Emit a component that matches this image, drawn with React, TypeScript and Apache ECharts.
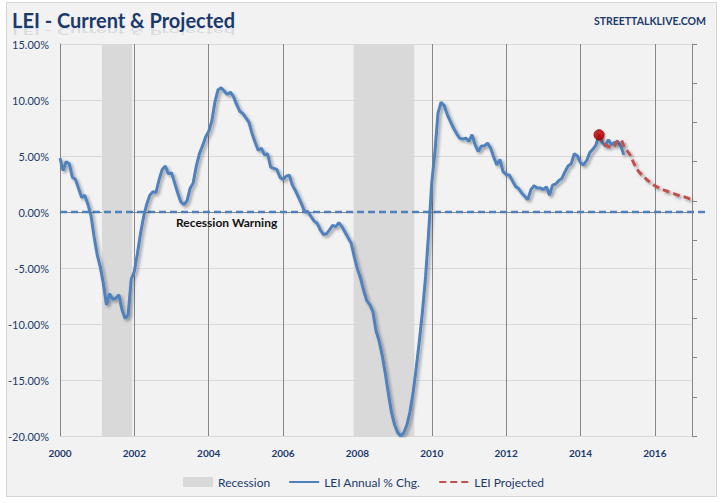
import React, { useEffect, useRef } from "react";
import * as echarts from "echarts";

// ---------- data ----------
const startYear = 2000; // monthly series starting Jan 2000
const leiActual: number[] = [
  // 2000
  4.8, 3.7, 4.5, 4.3, 3.1, 2.9, 2.1, 1.3, 1.5, 0.7, -0.3, -2.2,
  // 2001
  -3.8, -4.9, -6.4, -8.3, -7.3, -7.8, -7.7, -7.4, -8.7, -9.5, -9.2, -6.0,
  // 2002
  -5.3, -3.7, -1.9, -0.4, 0.7, 1.5, 1.8, 1.75, 2.9, 3.8, 4.1, 3.4,
  // 2003
  3.5, 2.6, 1.7, 0.9, 0.65, 1.0, 2.1, 2.6, 4.1, 5.2, 5.9, 6.7,
  // 2004
  7.2, 8.1, 9.8, 10.9, 11.1, 10.8, 10.5, 10.7, 10.3, 9.6, 9.0, 8.8,
  // 2005
  8.4, 8.0, 7.0, 6.2, 5.5, 5.7, 5.1, 5.2, 4.0, 3.9, 3.8, 3.1,
  // 2006
  2.9, 3.2, 3.3, 2.4, 1.9, 1.3, 0.7, 0.0, 0.05, -0.4, -0.8, -1.0,
  // 2007
  -1.6, -2.0, -1.95, -1.6, -1.2, -1.3, -0.95, -1.3, -1.8, -2.3, -2.8, -4.0,
  // 2008
  -5.1, -5.9, -7.0, -7.9, -8.3, -8.9, -10.6, -11.5, -12.8, -14.4, -16.2, -17.9,
  // 2009
  -19.0, -19.7, -20.0, -19.7, -19.0, -17.8, -16.1, -13.9, -11.5, -8.9, -5.8, -1.8,
  // 2010
  2.6, 5.3, 8.8, 9.8, 9.5, 8.7, 8.1, 7.5, 7.0, 6.6, 6.5, 6.6,
  // 2011
  6.3, 6.9, 6.0, 5.4, 5.9, 5.9, 6.15, 5.7, 4.9, 4.2, 4.7, 3.6,
  // 2012
  3.35, 3.3, 2.8, 2.3, 2.1, 1.7, 1.4, 1.1, 2.0, 2.35, 2.15, 2.15,
  // 2013
  2.0, 2.25, 1.5, 2.4, 2.5, 2.8, 3.0, 3.6, 4.1, 4.3, 5.2, 5.0,
  // 2014
  4.4, 4.2, 4.6, 5.3, 5.6, 6.0, 6.9, 6.2, 5.9, 6.45, 6.0, 6.2,
  // 2015
  6.3, 5.9, 5.1,
];

const projectedStart = 2014.5; // monthly projection from Jul 2014
const leiProjected: number[] = [
  6.9, 6.2, 6.0, 5.85, 5.75, 5.9, 6.35, 6.45, 5.9, 5.5, 5.1, 4.5, 3.95, 3.55,
  3.25, 3.0, 2.75, 2.55, 2.35, 2.2, 2.05, 1.95, 1.85, 1.75, 1.65, 1.55, 1.45,
  1.38, 1.3, 1.2, 1.1,
];

const peakPoint: [number, number] = [2014.5, 6.9];

const recessionStart = [2001.13, 2007.9];
const recessionEnd = [2001.94, 2009.53];

const warningLevel = 0;
const warningLabel = "Recession Warning";

const titleText = "LEI - Current & Projected";
const siteText = "STREETTALKLIVE.COM";

const NAVY = "#1b3a6b";
const FONT = "Lato, 'Noto Sans', sans-serif";

export default function App() {
  const ref = useRef<HTMLDivElement>(null);

  useEffect(() => {
    if (!ref.current) return;
    const chart = echarts.init(ref.current, undefined, { renderer: "svg" });

    const actualData = leiActual.map((v, i) => [startYear + i / 12, v]);
    const projData = leiProjected.map((v, i) => [projectedStart + i / 12, v]);

    const shadow = {
      shadowColor: "rgba(0,0,0,0.35)",
      shadowBlur: 3,
      shadowOffsetX: 2,
      shadowOffsetY: 2,
    };

    const option: any = {
      animation: false,
      backgroundColor: "transparent",
      textStyle: { fontFamily: FONT },
      title: [
        {
          text: titleText,
          left: 7,
          top: 5,
          textStyle: { fontFamily: FONT, fontWeight: "bold", fontSize: 20, color: NAVY },
        },
        {
          text: siteText,
          right: 11,
          top: 10,
          textStyle: { fontFamily: FONT, fontWeight: "bold", fontSize: 10.5, color: NAVY },
        },
      ],
      grid: { left: 60, right: 30, top: 44, bottom: 67 },
      xAxis: {
        type: "value",
        min: 2000,
        max: 2017,
        interval: 2,
        axisLine: { show: true, lineStyle: { color: "#868686", width: 1 } },
        axisTick: { show: false },
        splitLine: { show: true, lineStyle: { color: "#868686", width: 1 } },
        axisLabel: {
          color: NAVY,
          fontSize: 10,
          fontWeight: "bold",
          fontFamily: FONT,
          margin: 12,
          showMaxLabel: false,
          formatter: (v: number) => String(v),
        },
      },
      yAxis: [
        {
          type: "value",
          min: -20,
          max: 15,
          interval: 5,
          axisLine: { show: true, lineStyle: { color: "#868686", width: 1 } },
          axisTick: { show: false },
          splitLine: { show: true, lineStyle: { color: "#d9d9d9", width: 1 } },
          axisLabel: {
            color: NAVY,
            fontSize: 11,
            fontFamily: FONT,
            margin: 11,
            formatter: (v: number) => v.toFixed(2) + "%",
          },
        },
        {
          type: "value",
          position: "right",
          min: 0,
          max: 10,
          interval: 1,
          axisLine: { show: true, lineStyle: { color: "#868686", width: 1 } },
          axisTick: { show: true, inside: false, length: 5, lineStyle: { color: "#868686" } },
          axisLabel: { show: false },
          splitLine: { show: false },
        },
      ],
      legend: {
        data: [
          { name: "Recession", icon: "rect" },
          { name: "LEI Annual % Chg.", itemStyle: { opacity: 0 } },
          { name: "LEI Projected", itemStyle: { opacity: 0 } },
        ],
        left: 178,
        top: 471,
        itemWidth: 30,
        itemHeight: 10,
        itemGap: 18,
        selectedMode: false,
        textStyle: { color: NAVY, fontSize: 12, fontFamily: FONT },
      },
      series: [
        {
          name: "Recession",
          type: "line",
          data: [],
          z: 1,
          itemStyle: { color: "#d9d9d9" },
          lineStyle: { color: "#d9d9d9" },
          markArea: {
            silent: true,
            itemStyle: { color: "#d9d9d9" },
            data: recessionStart.map((s, i) => [{ xAxis: s }, { xAxis: recessionEnd[i] }]),
          },
        },
        {
          name: "LEI Annual % Chg.",
          type: "line",
          data: actualData,
          symbol: "none",
          z: 4,
          itemStyle: { color: "#4f81bd" },
          lineStyle: { color: "#4f81bd", width: 3, ...shadow },
        },
        {
          name: "LEI Projected",
          type: "line",
          data: projData,
          symbol: "none",
          smooth: 0.3,
          z: 5,
          itemStyle: { color: "#c0504d" },
          lineStyle: { color: "#c0504d", width: 3, type: [7, 4], ...shadow },
        },
        {
          name: "peak",
          type: "scatter",
          data: [peakPoint],
          symbolSize: 10,
          z: 6,
          itemStyle: {
            color: "#c00000",
            borderColor: "#7a0000",
            borderWidth: 1,
            shadowColor: "rgba(0,0,0,0.35)",
            shadowBlur: 2,
            shadowOffsetX: 1,
            shadowOffsetY: 1,
          },
        },
      ],
    };

    chart.setOption(option);

    const x0 = chart.convertToPixel({ xAxisIndex: 0 }, 2000) as number;
    const xEnd = chart.convertToPixel({ xAxisIndex: 0 }, 2017.45) as number;
    const y0 = chart.convertToPixel({ yAxisIndex: 0 }, warningLevel) as number;
    const xText = chart.convertToPixel({ xAxisIndex: 0 }, 2003.12) as number;

    chart.setOption({
      graphic: [
        {
          type: "line",
          z: 3,
          silent: true,
          shape: { x1: x0, y1: y0, x2: xEnd, y2: y0 },
          style: {
            stroke: "#4f81bd",
            lineWidth: 2.5,
            lineDash: [7, 4],
          },
        },
        {
          type: "text",
          z: 3,
          silent: true,
          x: xText,
          y: y0 + 10,
          style: {
            text: warningLabel,
            font: `bold 12px ${FONT}`,
            fill: "#111",
            verticalAlign: "middle",
            align: "left",
            shadowColor: "rgba(0,0,0,0.35)",
            shadowBlur: 2,
            shadowOffsetX: 1,
            shadowOffsetY: 1,
          },
        },
        {
          type: "text",
          z: 0,
          silent: true,
          x: 12,
          y: 27,
          scaleY: -0.45,
          style: {
            text: titleText,
            font: `bold 20px ${FONT}`,
            verticalAlign: "bottom",
            align: "left",
            fill: "rgba(27,58,107,0.12)",
          },
        },
      ],
    });

    return () => chart.dispose();
  }, []);

  return (
    <div style={{ position: "fixed", left: 0, top: 0, width: 722, height: 503, background: "#ffffff" }}>
      <div
        style={{
          position: "absolute",
          left: 6,
          top: 2,
          width: 711,
          height: 495,
          background: "#f2f2f2",
          border: "1px solid #d6d6d6",
          boxSizing: "border-box",
        }}
      />
      <div ref={ref} style={{ position: "absolute", left: 0, top: 0, width: 722, height: 503 }} />
    </div>
  );
}
